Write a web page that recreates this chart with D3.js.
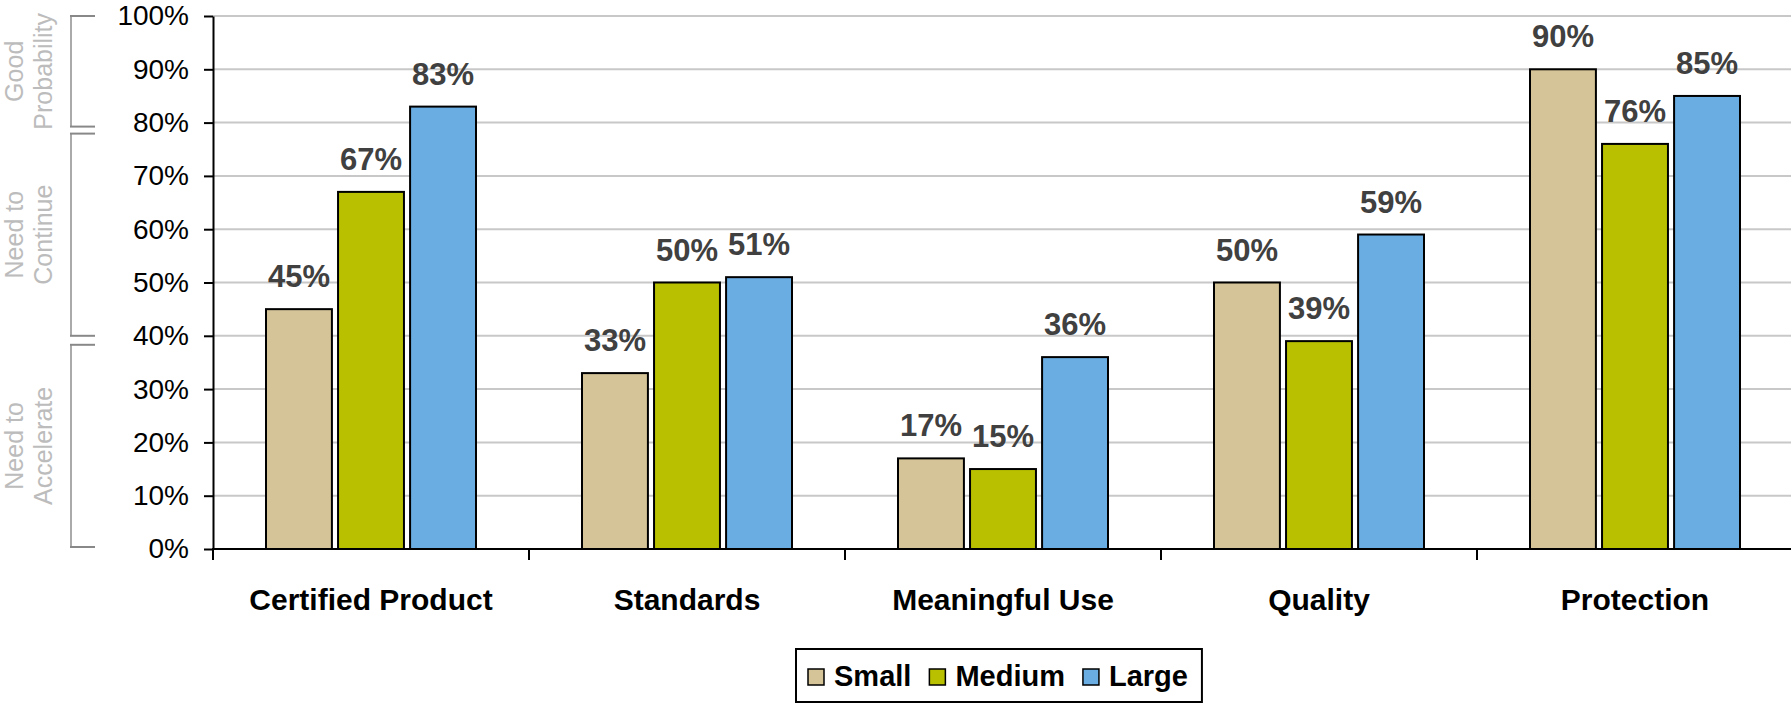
<!DOCTYPE html>
<html>
<head>
<meta charset="utf-8">
<script src="https://cdn.jsdelivr.net/npm/d3@7"></script>
<style>
body { margin: 0; background: #fff; }
text { font-family: Arial, "Liberation Sans", Helvetica, sans-serif; }
</style>
</head>
<body>
<div id="vis1"></div>
<script>
var categories = ["Certified Product", "Standards", "Meaningful Use", "Quality", "Protection"];
var series = ["Small", "Medium", "Large"];
var small = [45, 33, 17, 50, 90];
var medium = [67, 50, 15, 39, 76];
var large = [83, 51, 36, 59, 85];
var yTicks = [0, 10, 20, 30, 40, 50, 60, 70, 80, 90, 100];
var zoneLabels = [["Good", "Probability"], ["Need to", "Continue"], ["Need to", "Accelerate"]];
var zoneRanges = [[80, 100], [40, 80], [0, 40]];
var colors = ["#d4c497", "#b8c000", "#6aade3"];

var values = [small, medium, large];
var w = 1791, h = 703;

var svg = d3.select("#vis1")
	.append("svg")
	.attr("width", w)
	.attr("height", h);

var y = d3.scaleLinear().domain([0, 100]).range([549, 16]);
var x0 = d3.scaleBand().domain(categories).range([213, 1793]);
var x1 = d3.scaleBand().domain(series).range([53, 263]).paddingInner(0.085);

// gridlines
svg.append("g")
	.selectAll("line")
	.data(yTicks.filter(function (d) { return d > 0; }))
	.enter()
	.append("line")
	.attr("x1", 213)
	.attr("x2", w)
	.attr("y1", function (d) { return y(d); })
	.attr("y2", function (d) { return y(d); })
	.attr("stroke", "#c8c8c8")
	.attr("stroke-width", 2);

// bars, one row per category
var rows = categories.map(function (c, i) {
	return series.map(function (s, j) { return { cat: c, s: s, j: j, v: values[j][i] }; });
});

var groups = svg.selectAll(".cat")
	.data(rows)
	.enter()
	.append("g")
	.attr("class", "cat")
	.attr("transform", function (d, i) { return "translate(" + x0(categories[i]) + ",0)"; });

groups.selectAll("rect")
	.data(function (d) { return d; })
	.enter()
	.append("rect")
	.attr("x", function (d) { return x1(d.s); })
	.attr("width", x1.bandwidth())
	.attr("y", function (d) { return y(d.v); })
	.attr("height", function (d) { return y(0) - y(d.v); })
	.attr("fill", function (d) { return colors[d.j]; })
	.attr("stroke", "#000")
	.attr("stroke-width", 2);

groups.selectAll(".val")
	.data(function (d) { return d; })
	.enter()
	.append("text")
	.attr("class", "val")
	.attr("x", function (d) { return x1(d.s) + x1.bandwidth() / 2; })
	.attr("y", function (d) { return y(d.v) - 22; })
	.attr("text-anchor", "middle")
	.attr("font-size", 31)
	.attr("font-weight", "bold")
	.attr("fill", "#404040")
	.text(function (d) { return d.v + "%"; });

// y axis
var yAxis = svg.append("g")
	.attr("transform", "translate(213,0)")
	.call(d3.axisLeft(y).tickValues(yTicks).tickFormat(function (d) { return d + "%"; })
		.tickSize(9).tickSizeOuter(0).tickPadding(15));
yAxis.selectAll("text").attr("font-size", 28).attr("fill", "#000").style("font-family", "Arial, 'Liberation Sans', sans-serif");
yAxis.selectAll("line").attr("stroke-width", 2);
yAxis.select(".domain").attr("stroke-width", 2);

// x axis line and category boundary ticks
svg.append("line")
	.attr("x1", 212).attr("x2", w)
	.attr("y1", y(0)).attr("y2", y(0))
	.attr("stroke", "#000").attr("stroke-width", 2);

var bounds = categories.map(function (c) { return x0(c); });
svg.append("g")
	.selectAll("line")
	.data(bounds)
	.enter()
	.append("line")
	.attr("x1", function (d) { return d; })
	.attr("x2", function (d) { return d; })
	.attr("y1", y(0))
	.attr("y2", y(0) + 11)
	.attr("stroke", "#000")
	.attr("stroke-width", 2);

svg.append("g")
	.selectAll("text")
	.data(categories)
	.enter()
	.append("text")
	.attr("x", function (d) { return x0(d) + x0.bandwidth() / 2; })
	.attr("y", 610)
	.attr("text-anchor", "middle")
	.attr("font-size", 30)
	.attr("font-weight", "bold")
	.attr("fill", "#000")
	.text(function (d) { return d; });

// zone brackets on the left
var topOff = [0, 11, 9], botOff = [4, 0, -2];
zoneRanges.forEach(function (r, i) {
	var t = y(r[1]) + topOff[i], b = y(r[0]) + botOff[i];
	var g = svg.append("g");
	g.append("line").attr("x1", 71).attr("x2", 71).attr("y1", t).attr("y2", b)
		.attr("stroke", "#aaa").attr("stroke-width", 2);
	g.append("line").attr("x1", 70).attr("x2", 95).attr("y1", t).attr("y2", t)
		.attr("stroke", "#888").attr("stroke-width", 2);
	g.append("line").attr("x1", 70).attr("x2", 95).attr("y1", b).attr("y2", b)
		.attr("stroke", "#888").attr("stroke-width", 2);
	var cy = (t + b) / 2;
	zoneLabels[i].forEach(function (s, k) {
		g.append("text")
			.attr("transform", "translate(" + (23 + k * 29) + "," + cy + ") rotate(-90)")
			.attr("text-anchor", "middle")
			.attr("font-size", 25)
			.attr("fill", "#bcbcbc")
			.text(s);
	});
});

// legend
var legend = svg.append("g");
var box = legend.append("rect")
	.attr("x", 796).attr("y", 649).attr("width", 412).attr("height", 53)
	.attr("fill", "#fff").attr("stroke", "#000").attr("stroke-width", 2);
var lx = 808;
series.forEach(function (s, j) {
	legend.append("rect")
		.attr("x", lx).attr("y", 669).attr("width", 16).attr("height", 16)
		.attr("fill", colors[j]).attr("stroke", "#000").attr("stroke-width", 1.5);
	var t = legend.append("text")
		.attr("x", lx + 26).attr("y", 686)
		.attr("font-size", 29)
		.attr("font-weight", "bold")
		.attr("fill", "#000")
		.text(s);
	lx += 26 + t.node().getComputedTextLength() + 18;
});
box.attr("width", lx - 18 + 14 - 796);
</script>
</body>
</html>
